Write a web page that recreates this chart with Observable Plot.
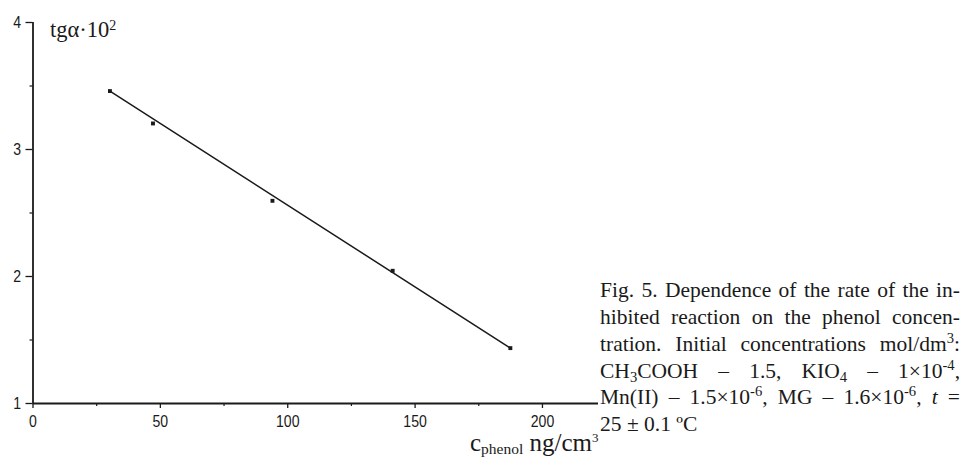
<!DOCTYPE html>
<html>
<head>
<meta charset="utf-8">
<script src="https://cdn.jsdelivr.net/npm/d3@7"></script>
<script src="https://cdn.jsdelivr.net/npm/@observablehq/plot@0.6"></script>
<style>
  html, body { margin: 0; padding: 0; background: #fff; }
  #wrap { position: relative; width: 966px; height: 459px; overflow: hidden; }
  .serif { font-family: "Liberation Serif", "Times New Roman", serif; color: #1a1a1a; position: absolute; white-space: nowrap; }
  #caption { left: 600px; top: 277.3px; font-size: 21.5px; line-height: 26.8px; width: 360px; }
  #caption div { text-align: justify; text-align-last: justify; white-space: nowrap; }
  #caption div.last { text-align: left; text-align-last: left; }
  #caption sup, #caption sub { line-height: 0; font-size: 0.68em; }
  #caption sup { vertical-align: 0.55em; }
  #caption sub { vertical-align: -0.3em; }
  #ylab { left: 50px; top: 16px; font-size: 22.5px; line-height: 28px; }
  #ylab sup { font-size: 14px; line-height: 0; vertical-align: 7px; }
  #xlab { left: 470px; top: 427.6px; font-size: 25px; line-height: 30px; }
  #xlab sub { font-size: 15.5px; line-height: 0; vertical-align: -3px; }
  #xlab sup { font-size: 13px; line-height: 0; vertical-align: 9px; }
</style>
</head>
<body>
<div id="wrap">
  <div id="ylab" class="serif">tgα·10<sup>2</sup></div>
  <div id="xlab" class="serif">c<sub>phenol</sub> ng/cm<sup>3</sup></div>
  <div id="caption" class="serif">
    <div>Fig. 5. Dependence of the rate of the in-</div>
    <div>hibited reaction on the phenol concen-</div>
    <div>tration. Initial concentrations mol/dm<sup>3</sup>:</div>
    <div>CH<sub>3</sub>COOH – 1.5, KIO<sub>4</sub> – 1×10<sup>-4</sup>,</div>
    <div>Mn(II) – 1.5×10<sup>-6</sup>, MG – 1.6×10<sup>-6</sup>, <i>t</i> =</div>
    <div class="last">25 ± 0.1 ºC</div>
  </div>
</div>
<script>
// Data
const concPhenol = [30.2, 47.1, 94.0, 141.2, 187.4];      // c_phenol, ng/cm3
const tgAlpha = [3.46, 3.205, 2.596, 2.045, 1.436];       // tg(alpha)·10^2
const fitConc = [30.2, 187.4];                              // fitted line ends
const fitTg = [3.46, 1.436];
const xTicks = [0, 50, 100, 150, 200];
const xMinorTicks = [25, 75, 125, 175];
const yTicks = [1, 2, 3, 4];
const yMinorTicks = [1.5, 2.5, 3.5];
const xDomain = [0, 222];
const yDomain = [1, 4];

const points = concPhenol.map((c, i) => ({c, t: tgAlpha[i]}));
const fit = fitConc.map((c, i) => ({c, t: fitTg[i]}));

const ink = "#1a1a1a";
const chart = Plot.plot({
  width: 966,
  height: 459,
  marginLeft: 32.5,
  marginRight: 368,
  marginTop: 22,
  marginBottom: 56,
  x: {domain: xDomain},
  y: {domain: yDomain},
  style: {fontFamily: "'Liberation Sans', Arial, sans-serif", fontSize: "16px", color: ink, background: "transparent"},
  marks: [
    Plot.axisX(xTicks, {tickSize: 5, tickPadding: 7, tickFormat: d => String(d), label: null, stroke: ink, strokeWidth: 1.3}),
    Plot.axisX(xMinorTicks, {tickSize: 3, tickFormat: () => "", label: null, stroke: ink, strokeWidth: 1.2}),
    Plot.axisY(yTicks, {tickSize: 7, tickPadding: 5, tickFormat: d => String(d), label: null, stroke: ink, strokeWidth: 1.3}),
    Plot.axisY(yMinorTicks, {tickSize: 3, tickFormat: () => "", label: null, stroke: ink, strokeWidth: 1.2}),
    Plot.ruleX([xDomain[0]], {stroke: ink, strokeWidth: 1.8}),
    Plot.ruleY([yDomain[0]], {stroke: ink, strokeWidth: 1.8}),
    Plot.line(fit, {x: "c", y: "t", stroke: ink, strokeWidth: 1.5}),
    Plot.dot(points, {x: "c", y: "t", symbol: "square", r: 2.2, fill: ink, stroke: "none"})
  ]
});
chart.style.position = "absolute";
chart.style.left = "0px";
chart.style.top = "0px";
document.getElementById("wrap").prepend(chart);

// narrow the tick label glyphs as in the scanned figure
chart.querySelectorAll('g[aria-label="x-axis tick label"] text, g[aria-label="y-axis tick label"] text').forEach(t => {
  const tr = t.getAttribute("transform") || "";
  t.setAttribute("transform", tr + " scale(0.88,1)");
});
</script>
</body>
</html>
